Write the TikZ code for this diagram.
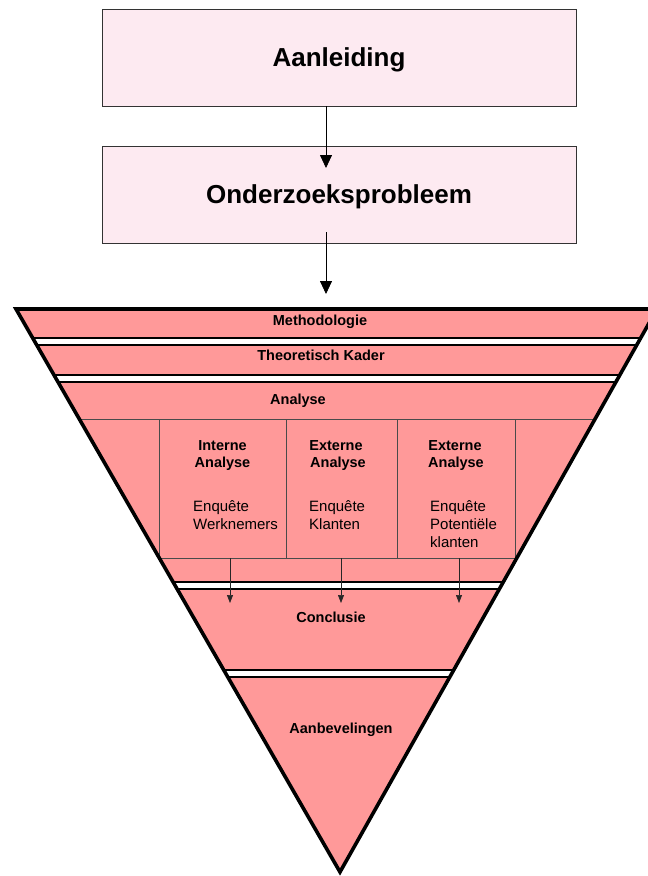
\documentclass[tikz,border=0pt]{standalone}
\usepackage{fontspec}
\setmainfont{Liberation Sans}
\usetikzlibrary{arrows.meta}
\definecolor{boxpink}{HTML}{FDEAF1}
\definecolor{funnelpink}{HTML}{FF9999}
\definecolor{gridgray}{HTML}{4A4A4A}
\begin{document}
\begin{tikzpicture}[x=1pt,y=-1pt,
  topbox/.style={draw=black!80, fill=boxpink, line width=0.8pt, inner sep=0pt,
                 minimum width=474pt, minimum height=97pt,
                 text height=18.6pt, text depth=0pt,
                 font=\fontsize{26}{30}\selectfont\bfseries},
  flowarrow/.style={line width=0.8pt, -{Triangle[length=13pt,width=12pt]}},
  smallarrow/.style={line width=0.7pt, black!85, -{Triangle[length=8pt,width=6pt]}},
  bandtext/.style={font=\fontsize{14.5}{17}\selectfont\bfseries, inner sep=0pt, anchor=base},
  coltitle/.style={font=\fontsize{14.5}{17}\selectfont\bfseries, inner sep=0pt, anchor=base},
  coltext/.style={font=\fontsize{15}{18}\selectfont, inner sep=0pt, anchor=base west},
  separator/.style={fill=white},
  gridline/.style={draw=gridgray, line width=0.8pt}
]
\useasboundingbox (0,0) rectangle (648,876);

% --- top boxes -------------------------------------------------------
\node[topbox] (aanl) at (339,57.5) {Aanleiding};
\node[topbox] (probl) at (339,194.5) {Onderzoeksprobleem};

\coordinate (a1end) at (326,168);
\coordinate (a2start) at (326,232);
\coordinate (a2end) at (326,294);
\draw[flowarrow] (aanl.south -| a1end) -- (a1end);
\draw[flowarrow] (a2start) -- (a2end);

% --- funnel ----------------------------------------------------------
\coordinate (tl) at (16,309);
\coordinate (tr) at (657,309);
\coordinate (ap) at (340,872);

\fill[funnelpink] (tl) -- (tr) -- (ap) -- cycle;

\begin{scope}
  \clip (0,0) rectangle (648,876);
  \clip (tl) -- (tr) -- (ap) -- cycle;
  % white separator strips between the bands
  \foreach \ya/\yb in {338/345, 375/382, 582/589, 670/677}{
    \fill[separator] (0,\ya) rectangle (660,\yb);
    \draw[line width=2.2pt] (0,\ya) -- (660,\ya);
    \draw[line width=1.4pt] (0,\yb) -- (660,\yb);
  }
  % grid of the analysis part
  \draw[gridline] (0,419) -- (660,419);
  \draw[gridline] (159,419) rectangle (515,558);
  \draw[gridline] (286,419) -- (286,558);
  \draw[gridline] (397,419) -- (397,558);
\end{scope}

\draw[line width=3.6pt, line join=miter] (tl) -- (tr) -- (ap) -- cycle;

% --- band labels -----------------------------------------------------
\node[bandtext] (meth) at (320,325.5) {Methodologie};
\node[bandtext] (kader) at (321,360) {Theoretisch Kader};
\node[bandtext] (anal) at (298,404) {Analyse};
\node[bandtext] (concl) at (331,622) {Conclusie};
\node[bandtext] (aanb) at (341,733) {Aanbevelingen};

% --- analysis columns ------------------------------------------------
\node[coltitle] (c1a) at (222.5,450) {Interne};
\node[coltitle] (c1b) at (222.5,467) {Analyse};
\node[coltitle] (c2a) at (336,450) {Externe};
\node[coltitle] (c2b) at (338,467) {Analyse};
\node[coltitle] (c3a) at (455,450) {Externe};
\node[coltitle] (c3b) at (456,467) {Analyse};

\node[coltext] (c1t) at (193,511) {Enquête};
\node[coltext] (c1u) at (193,529) {Werknemers};
\node[coltext] (c2t) at (309,511) {Enquête};
\node[coltext] (c2u) at (309,529) {Klanten};
\node[coltext] (c3t) at (430,511) {Enquête};
\node[coltext] (c3u) at (430,529) {Potentiële};
\node[coltext] (c3v) at (430,547) {klanten};

% arrows from the analyses into the conclusion
\coordinate (s1) at (230,558);  \coordinate (e1) at (230,603);
\coordinate (s2) at (341,558);  \coordinate (e2) at (341,603);
\coordinate (s3) at (459,558);  \coordinate (e3) at (459,603);
\draw[smallarrow] (s1) -- (e1);
\draw[smallarrow] (s2) -- (e2);
\draw[smallarrow] (s3) -- (e3);
\end{tikzpicture}
\end{document}
